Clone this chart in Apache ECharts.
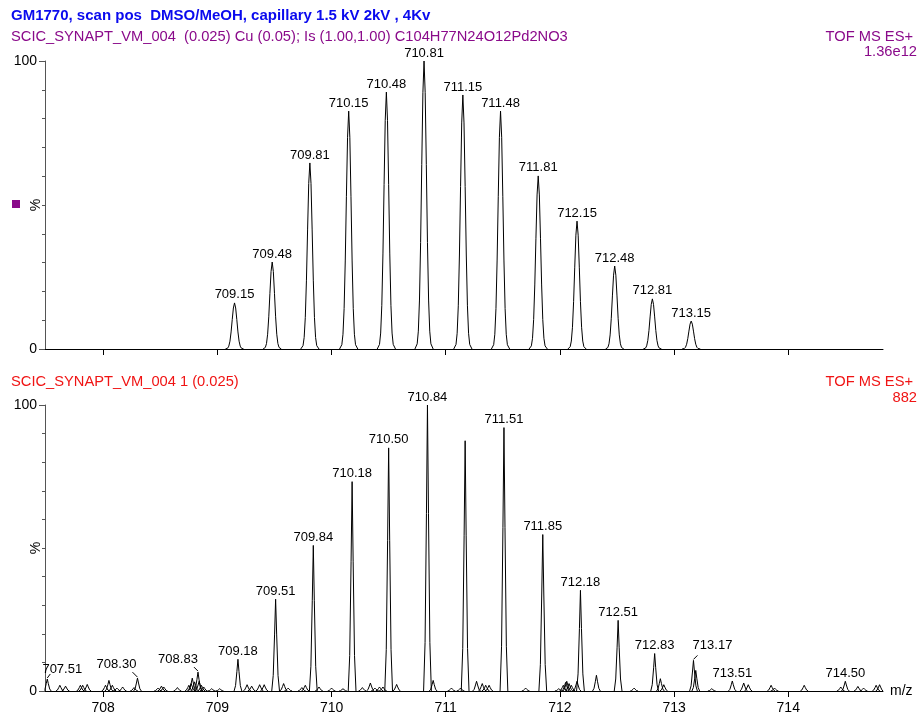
<!DOCTYPE html>
<html><head><meta charset="utf-8">
<script src="https://cdn.jsdelivr.net/npm/echarts@6/dist/echarts.min.js"></script>
<style>html,body{margin:0;padding:0;background:#fff}#c{width:919px;height:715px}</style>
</head><body><div id="c"></div>
<script>
// ---------------- texts ----------------
const titleText = 'GM1770, scan pos  DMSO/MeOH, capillary 1.5 kV 2kV , 4Kv';
const topHeader = 'SCIC_SYNAPT_VM_004  (0.025) Cu (0.05); Is (1.00,1.00) C104H77N24O12Pd2NO3';
const bottomHeader = 'SCIC_SYNAPT_VM_004 1 (0.025)';
const instrument = 'TOF MS ES+';
const topIntensity = '1.36e12';
const bottomIntensity = '882';
const xAxisName = 'm/z';
const yAxisName = '%';
const xTicks = [708, 709, 710, 711, 712, 713, 714];

// ---------------- data: simulated isotope pattern (top) ----------------
const topMz  = [709.15, 709.48, 709.81, 710.15, 710.48, 710.81, 711.15, 711.48, 711.81, 712.15, 712.48, 712.81, 713.15];
const topPct = [16.0,   30.2,   64.6,   82.6,   89.2,   100,    88.2,   82.6,   60.1,   44.4,   28.8,   17.4,   9.7];

// ---------------- data: measured spectrum (bottom) ----------------
const bottomMz = [
  707.51, 707.62, 707.67, 707.80, 707.82, 707.86, 708.02, 708.05, 708.08, 708.12,
  708.17, 708.27, 708.30, 708.48, 708.51, 708.53, 708.65, 708.75, 708.77, 708.78,
  708.80, 708.83, 708.84, 708.86, 708.88, 708.95, 709.02, 709.18, 709.26, 709.30,
  709.37, 709.41, 709.51, 709.58, 709.62, 709.74, 709.77, 709.84, 709.89, 710.00,
  710.10, 710.18, 710.27, 710.34, 710.38, 710.42, 710.45, 710.50, 710.57, 710.84,
  710.89, 711.05, 711.13, 711.17, 711.27, 711.32, 711.35, 711.38, 711.51, 711.70,
  711.85, 711.99, 712.03, 712.05, 712.06, 712.08, 712.10, 712.15, 712.18, 712.32,
  712.51, 712.65, 712.83, 712.88, 712.91, 713.17, 713.19, 713.33, 713.51, 713.61,
  713.65, 713.85, 713.88, 714.14, 714.46, 714.50, 714.61, 714.66, 714.77, 714.80
];
const bottomPct = [
  4.2, 2.0, 1.7, 2.0, 2.0, 2.3, 2.0, 3.7, 2.0, 1.0,
  1.4, 1.2, 4.5, 1.0, 1.7, 1.4, 1.2, 2.0, 2.6, 4.5,
  3.2, 6.6, 3.4, 2.0, 1.4, 0.8, 0.8, 11.1, 2.2, 1.7,
  2.2, 2.2, 32.1, 2.6, 1.0, 1.2, 2.0, 50.9, 1.4, 1.0,
  0.8, 73.2, 1.2, 2.8, 1.0, 1.4, 1.4, 85.0, 2.3, 100,
  3.7, 1.0, 1.0, 87.5, 3.4, 2.6, 2.0, 2.0, 92.1, 1.0,
  54.7, 0.8, 2.0, 3.0, 3.4, 2.6, 2.0, 3.4, 35.2, 5.5,
  24.7, 1.0, 13.1, 4.3, 2.2, 10.7, 7.2, 0.8, 3.5, 2.8,
  2.2, 2.0, 1.0, 2.0, 1.4, 3.4, 1.6, 1.0, 2.0, 2.2
];
const bottomLabelMz = [707.51, 708.30, 708.83, 709.18, 709.51, 709.84, 710.18, 710.50, 710.84,
                       711.51, 711.85, 712.18, 712.51, 712.83, 713.17, 713.51, 714.50];

// ---------------- layout / style ----------------
const FONT = '"Liberation Sans", Arial, Helvetica, sans-serif';
const xMin = 707.49, xMax = 714.83;
const PURPLE = '#8a0a8a', BLUE = '#0a0aee', RED = '#f01414';
const HEAD_FONT = '14.7px ' + FONT;
// peak profile templates: [m/z offset, fraction of peak height]
const topShape = [[-0.08,0],[-0.06,0.018],[-0.05,0.062],[-0.04,0.17],[-0.03,0.37],[-0.02,0.64],[-0.01,0.89],[0,1],
                  [0.01,0.89],[0.02,0.64],[0.03,0.37],[0.04,0.17],[0.05,0.062],[0.06,0.018],[0.08,0]];
const bottomShape = [[-0.034,0],[-0.021,0.17],[-0.009,0.62],[0,1],[0.009,0.62],[0.021,0.17],[0.034,0]];
// label placement nudges (px): text centre offset and leader end, relative to peak top
const labelNudge = {
  '707.51': {dx: 15, dy: -10, lead: [3, -5]},
  '708.30': {dx: -21, dy: -14, lead: [-5, -6]},
  '708.83': {dx: -20, dy: -13, lead: [-4, -5]},
  '713.17': {dx: 19, dy: -15, lead: [4, -5]}
};
const defaultNudge = {dx: 0, dy: -8, lead: null};

function peakRenderer(shape) {
  return function (params, api) {
    const mz = api.value(0), h = api.value(1);
    const pts = shape.map(([d, f]) => api.coord([Math.min(xMax, Math.max(xMin, mz + d)), h * f]));
    return {type: 'polyline', silent: true, shape: {points: pts},
            style: {fill: null, stroke: '#000', lineWidth: 1}};
  };
}
function labelRenderer(params, api) {
  const mz = api.value(0), h = api.value(1);
  const txt = mz.toFixed(2);
  const p = api.coord([mz, h]);
  const n = labelNudge[txt] || defaultNudge;
  const children = [{type: 'text', x: p[0] + n.dx, y: p[1] + n.dy, silent: true,
    style: {text: txt, fill: '#000', font: '13px ' + FONT, align: 'center', verticalAlign: 'middle'}}];
  if (n.lead) {
    children.push({type: 'line', silent: true,
      shape: {x1: p[0], y1: p[1] - 1, x2: p[0] + n.lead[0], y2: p[1] + n.lead[1]},
      style: {stroke: '#000', lineWidth: 1}});
  }
  return {type: 'group', children};
}
function heightAt(mz) {
  let best = 0;
  bottomMz.forEach((m, i) => { if (Math.abs(m - mz) < 0.005) best = Math.max(best, bottomPct[i]); });
  return best;
}

const topData = topMz.map((m, i) => [m, topPct[i]]);
const bottomData = bottomMz.map((m, i) => [m, bottomPct[i]]);
const bottomLabelData = bottomLabelMz.map(m => [m, heightAt(m)]);

function makeX(grid, showLabels) {
  return {
    type: 'value', gridIndex: grid, min: xMin, max: xMax,
    axisLine: {show: true, onZero: false, lineStyle: {color: '#000', width: 1}},
    axisTick: {show: true, customValues: xTicks, length: 6, lineStyle: {color: '#000'}},
    axisLabel: showLabels ? {show: true, customValues: xTicks, fontSize: 14, fontFamily: FONT, color: '#000', margin: 10}
                          : {show: false},
    splitLine: {show: false},
    name: showLabels ? xAxisName : '', nameLocation: 'end', nameGap: 7,
    nameTextStyle: {fontSize: 14, fontFamily: FONT, color: '#000', verticalAlign: 'middle', align: 'left'}
  };
}
function makeY(grid) {
  return {
    type: 'value', gridIndex: grid, min: 0, max: 100, interval: 100,
    axisLine: {show: true, lineStyle: {color: '#555', width: 1}},
    axisTick: {show: true, length: 6, lineStyle: {color: '#555'}},
    minorTick: {show: true, splitNumber: 10, length: 3, lineStyle: {color: '#555'}},
    axisLabel: {fontSize: 14, fontFamily: FONT, color: '#000', margin: 8},
    splitLine: {show: false}, minorSplitLine: {show: false}
  };
}

const chart = echarts.init(document.getElementById('c'), null, {renderer: 'canvas'});
chart.setOption({
  animation: false,
  backgroundColor: '#fff',
  grid: [
    {left: 45, right: 36, top: 61, height: 288},
    {left: 45, right: 36, top: 405, height: 287}
  ],
  xAxis: [makeX(0, false), makeX(1, true)],
  yAxis: [makeY(0), makeY(1)],
  series: [
    {type: 'custom', xAxisIndex: 0, yAxisIndex: 0, data: topData, encode: {x: 0, y: 1}, renderItem: peakRenderer(topShape), z: 3},
    {type: 'custom', xAxisIndex: 0, yAxisIndex: 0, data: topData, encode: {x: 0, y: 1}, renderItem: labelRenderer, z: 4},
    {type: 'custom', xAxisIndex: 1, yAxisIndex: 1, data: bottomData, encode: {x: 0, y: 1}, renderItem: peakRenderer(bottomShape), z: 3},
    {type: 'custom', xAxisIndex: 1, yAxisIndex: 1, data: bottomLabelData, encode: {x: 0, y: 1}, renderItem: labelRenderer, z: 4}
  ],
  graphic: [
    {type: 'text', x: 11, y: 16, style: {text: titleText, font: 'bold 15px ' + FONT, fill: BLUE, verticalAlign: 'middle'}},
    {type: 'text', x: 11, y: 37, style: {text: topHeader, font: HEAD_FONT, fill: PURPLE, verticalAlign: 'middle'}},
    {type: 'text', x: 913, y: 37, style: {text: instrument, font: HEAD_FONT, fill: PURPLE, align: 'right', verticalAlign: 'middle'}},
    {type: 'text', x: 917, y: 52, style: {text: topIntensity, font: HEAD_FONT, fill: PURPLE, align: 'right', verticalAlign: 'middle'}},
    {type: 'rect', shape: {x: 12, y: 200, width: 8, height: 8}, style: {fill: PURPLE}},
    {type: 'text', x: 36, y: 205, rotation: Math.PI / 2, style: {text: yAxisName, font: '14px ' + FONT, fill: '#000', align: 'center', verticalAlign: 'middle'}},
    {type: 'text', x: 11, y: 382, style: {text: bottomHeader, font: HEAD_FONT, fill: RED, verticalAlign: 'middle'}},
    {type: 'text', x: 913, y: 382, style: {text: instrument, font: HEAD_FONT, fill: RED, align: 'right', verticalAlign: 'middle'}},
    {type: 'text', x: 917, y: 398, style: {text: bottomIntensity, font: HEAD_FONT, fill: RED, align: 'right', verticalAlign: 'middle'}},
    {type: 'text', x: 36, y: 548, rotation: Math.PI / 2, style: {text: yAxisName, font: '14px ' + FONT, fill: '#000', align: 'center', verticalAlign: 'middle'}}
  ]
});
</script>
</body></html>
